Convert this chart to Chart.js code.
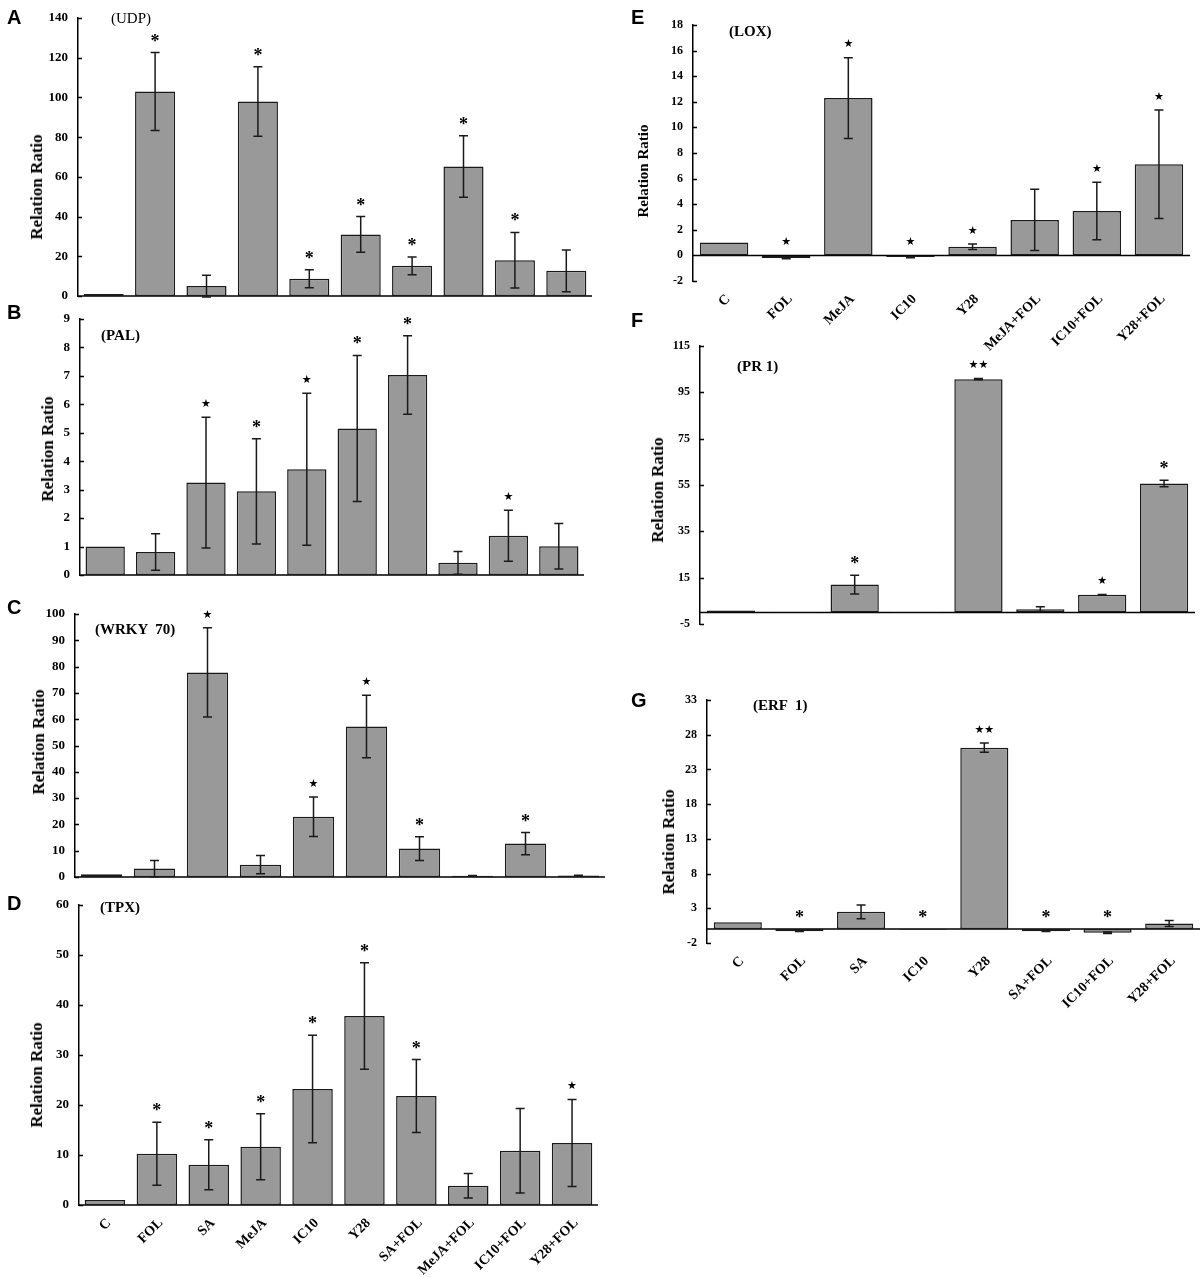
<!DOCTYPE html>
<html>
<head>
<meta charset="utf-8">
<script src="https://cdn.jsdelivr.net/npm/chart.js@4.4.1/dist/chart.umd.min.js"></script>
<style>
  body { margin: 0; background: #fff; width: 1200px; height: 1277px; position: relative; overflow: hidden; }
  .panel { position: absolute; }
  .letter { position: absolute; font: bold 20px "Liberation Sans", Arial, sans-serif; line-height: 20px; color: #000; }
  .gene { position: absolute; font: bold 15px "Liberation Serif", "Times New Roman", serif; line-height: 15px; white-space: pre; color: #000; }
  .ytitle { position: absolute; font: bold 17px "Liberation Serif", "Times New Roman", serif; white-space: nowrap; color: #000;
            transform: translate(-50%, -50%) rotate(-90deg); }
</style>
</head>
<body>
<script>
// categories
const catsLeft = ["C", "FOL", "SA", "MeJA", "IC10", "Y28", "SA+FOL", "MeJA+FOL", "IC10+FOL", "Y28+FOL"];
const catsLox = ["C", "FOL", "MeJA", "IC10", "Y28", "MeJA+FOL", "IC10+FOL", "Y28+FOL"];
const catsErf = ["C", "FOL", "SA", "IC10", "Y28", "SA+FOL", "IC10+FOL", "Y28+FOL"];

// A (UDP)
const udpMean = [1, 103, 5, 98, 8.7, 31, 15.2, 65.2, 18, 12.7];
const udpErr  = [0, 19.6, 5.5, 17.5, 4.5, 9, 4.5, 15.5, 14, 10.5];
const udpSig  = ["", "*", "", "*", "*", "*", "*", "*", "*", ""];
const udpAxis = [0, 140, 20];

// B (PAL)
const palMean = [1, 0.81, 3.25, 2.94, 3.72, 5.15, 7.03, 0.43, 1.38, 1.01];
const palErr  = [0, 0.64, 2.3, 1.85, 2.67, 2.57, 1.38, 0.4, 0.9, 0.8];
const palSig  = ["", "", "★", "*", "★", "*", "*", "", "★", ""];
const palAxis = [0, 9, 1];

// C (WRKY 70)
const wrkyMean = [1, 3.2, 77.8, 4.7, 22.9, 57.2, 10.8, 0.5, 12.7, 0.6];
const wrkyErr  = [0, 3.1, 17, 3.5, 7.5, 11.9, 4.5, 0.1, 4.2, 0.1];
const wrkySig  = ["", "", "★", "", "★", "★", "*", "", "*", ""];
const wrkyAxis = [0, 100, 10];

// D (TPX)
const tpxMean = [1, 10.25, 8.06, 11.65, 23.2, 37.8, 21.8, 3.86, 10.85, 12.4];
const tpxErr  = [0, 6.3, 5, 6.6, 10.75, 10.65, 7.3, 2.44, 8.45, 8.7];
const tpxSig  = ["", "*", "*", "*", "*", "*", "*", "", "", "★"];
const tpxAxis = [0, 60, 10];

// E (LOX)
const loxMean = [1, -0.2, 12.29, -0.13, 0.68, 2.77, 3.47, 7.12];
const loxErr  = [0, 0.06, 3.16, 0.05, 0.21, 2.39, 2.24, 4.23];
const loxSig  = ["", "★", "★", "★", "★", "", "★", "★"];
const loxAxis = [-2, 18, 2];

// F (PR 1)
const pr1Mean = [0.8, 0.15, 12, 0.15, 100.7, 1.4, 7.6, 55.6];
const pr1Err  = [0, 0, 4, 0, 0.3, 1, 0.1, 1.4];
const pr1Sig  = ["", "", "*", "", "★★", "", "★", "*"];
const pr1Axis = [-5, 115, 20];

// G (ERF 1)
const erfMean = [1, -0.29, 2.49, -0.1, 26.13, -0.29, -0.53, 0.82];
const erfErr  = [0, 0.07, 1, 0, 0.67, 0.05, 0.1, 0.43];
const erfSig  = ["", "*", "", "*", "★★", "*", "*", ""];
const erfAxis = [-2, 33, 5];

const serif = "'Liberation Serif', 'Times New Roman', serif";

// zero line, inward tick marks, error bars and significance marks
const errorStars = {
  id: "errorStars",
  beforeDatasetsDraw(chart) {
    const { ctx, chartArea } = chart;
    const ys = chart.scales.y;
    const y0 = ys.getPixelForValue(0);
    ctx.save();
    ctx.strokeStyle = "#000";
    ctx.lineWidth = 1.5;
    ctx.beginPath();
    ctx.moveTo(chartArea.left, y0);
    ctx.lineTo(chartArea.right, y0);
    ys.ticks.forEach(function (t) {
      const ty = Math.round(ys.getPixelForValue(t.value)) + 0.5;
      ctx.moveTo(chartArea.left, ty);
      ctx.lineTo(chartArea.left + 4, ty);
    });
    ctx.stroke();
    ctx.restore();
  },
  afterDatasetsDraw(chart) {
    const { ctx } = chart;
    const ys = chart.scales.y;
    const ds = chart.data.datasets[0];
    const meta = chart.getDatasetMeta(0);
    ctx.save();
    ctx.strokeStyle = "#1a1a1a";
    ctx.lineWidth = 1.5;
    ctx.fillStyle = "#000";
    ctx.textAlign = "center";
    meta.data.forEach(function (bar, i) {
      const m = ds.data[i], e = ds.errors[i];
      const x = bar.x;
      if (e > 0) {
        const yt = ys.getPixelForValue(m + e), yb = ys.getPixelForValue(m - e);
        ctx.beginPath();
        ctx.moveTo(x, yt); ctx.lineTo(x, yb);
        ctx.moveTo(x - 4.5, yt); ctx.lineTo(x + 4.5, yt);
        ctx.moveTo(x - 4.5, yb); ctx.lineTo(x + 4.5, yb);
        ctx.stroke();
      }
      const s = ds.sig[i];
      if (s) {
        const top = ys.getPixelForValue(Math.max(0, m + e));
        if (s === "*") {
          ctx.font = "bold 18px " + serif;
          ctx.textBaseline = "alphabetic";
          ctx.fillText(s, x, top - 6);
        } else {
          ctx.font = "11px 'DejaVu Sans', sans-serif";
          ctx.textBaseline = "middle";
          ctx.fillText(s, x, top - 13);
        }
      }
    });
    ctx.restore();
  }
};

function addDiv(cls, text, left, top) {
  const d = document.createElement("div");
  d.className = cls;
  d.textContent = text;
  d.style.left = left + "px";
  d.style.top = top + "px";
  document.body.appendChild(d);
  return d;
}

function makePanel(p) {
  const [bl, bt, bw, bh] = p.box;
  const [L, T, R, B] = p.area;
  const div = document.createElement("div");
  div.className = "panel";
  div.style.left = bl + "px";
  div.style.top = bt + "px";
  const cv = document.createElement("canvas");
  cv.width = bw; cv.height = bh;
  cv.style.width = bw + "px"; cv.style.height = bh + "px";
  div.appendChild(cv);
  document.body.appendChild(div);

  new Chart(cv, {
    type: "bar",
    data: {
      labels: p.labels,
      datasets: [{
        data: p.mean,
        errors: p.err,
        sig: p.sig,
        backgroundColor: "#999999",
        borderColor: "#1a1a1a",
        borderWidth: 1.5,
        borderSkipped: false,
        barPercentage: 0.78,
        categoryPercentage: 1
      }]
    },
    options: {
      responsive: false,
      animation: false,
      devicePixelRatio: 1,
      layout: { padding: { left: 0, top: T - bt, right: bl + bw - R, bottom: 0 } },
      plugins: { legend: { display: false }, tooltip: { enabled: false } },
      scales: {
        x: {
          grid: { display: false, drawTicks: false },
          border: { display: false },
          ticks: {
            display: p.showX, minRotation: 45, maxRotation: 45, autoSkip: false,
            padding: 10, labelOffset: 4, color: "#000",
            font: { family: serif, size: 14, weight: "bold" }
          },
          afterFit: function (s) { s.height = bt + bh - B; }
        },
        y: {
          min: p.axis[0], max: p.axis[1],
          ticks: { stepSize: p.axis[2], color: "#000", padding: 10,
                   font: { family: serif, size: p.tickSize, weight: "bold" } },
          grid: { display: false, drawTicks: false },
          border: { display: true, color: "#000", width: 1.5 },
          afterFit: function (s) {
            s.width = L - bl;
            s.paddingTop = 0;
            s.paddingBottom = 0;
          }
        }
      }
    },
    plugins: [errorStars]
  });

  addDiv("letter", p.letter, p.letterPos[0], p.letterPos[1]);
  const g = addDiv("gene", p.gene, p.genePos[0], p.genePos[1]);
  if (p.geneNormal) g.style.fontWeight = "normal";
  const t = addDiv("ytitle", "Relation Ratio", p.titleC[0], p.titleC[1]);
  if (p.titleSize) t.style.fontSize = p.titleSize + "px";
}

makePanel({ letter: "A", letterPos: [7, 7], gene: "(UDP)", genePos: [111, 11], geneNormal: true,
  labels: catsLeft, mean: udpMean, err: udpErr, sig: udpSig, axis: udpAxis,
  box: [0, 0, 600, 306], area: [78, 18, 592, 296], showX: false, tickSize: 13, titleC: [37, 187] });

makePanel({ letter: "B", letterPos: [7, 302], gene: "(PAL)", genePos: [101, 328],
  labels: catsLeft, mean: palMean, err: palErr, sig: palSig, axis: palAxis,
  box: [0, 300, 600, 285], area: [80, 319, 584, 575], showX: false, tickSize: 13, titleC: [48, 449] });

makePanel({ letter: "C", letterPos: [7, 597], gene: "(WRKY  70)", genePos: [95, 622],
  labels: catsLeft, mean: wrkyMean, err: wrkyErr, sig: wrkySig, axis: wrkyAxis,
  box: [0, 590, 612, 297], area: [75, 614, 605, 877], showX: false, tickSize: 13, titleC: [39, 742] });

makePanel({ letter: "D", letterPos: [7, 893], gene: "(TPX)", genePos: [100, 900],
  labels: catsLeft, mean: tpxMean, err: tpxErr, sig: tpxSig, axis: tpxAxis,
  box: [0, 885, 612, 392], area: [79, 905, 598, 1205], showX: true, tickSize: 13, titleC: [37, 1075] });

makePanel({ letter: "E", letterPos: [631, 7], gene: "(LOX)", genePos: [729, 24],
  labels: catsLox, mean: loxMean, err: loxErr, sig: loxSig, axis: loxAxis,
  box: [620, 0, 580, 365], area: [693, 25, 1190, 281], showX: true, tickSize: 12, titleC: [643, 171], titleSize: 15 });

makePanel({ letter: "F", letterPos: [631, 310], gene: "(PR 1)", genePos: [737, 359],
  labels: catsErf, mean: pr1Mean, err: pr1Err, sig: pr1Sig, axis: pr1Axis,
  box: [620, 335, 580, 300], area: [700, 346, 1195, 624], showX: false, tickSize: 12, titleC: [658, 490] });

makePanel({ letter: "G", letterPos: [631, 690], gene: "(ERF  1)", genePos: [753, 698],
  labels: catsErf, mean: erfMean, err: erfErr, sig: erfSig, axis: erfAxis,
  box: [620, 680, 580, 340], area: [707, 700, 1200, 943], showX: true, tickSize: 12, titleC: [669, 842] });
</script>
</body>
</html>
